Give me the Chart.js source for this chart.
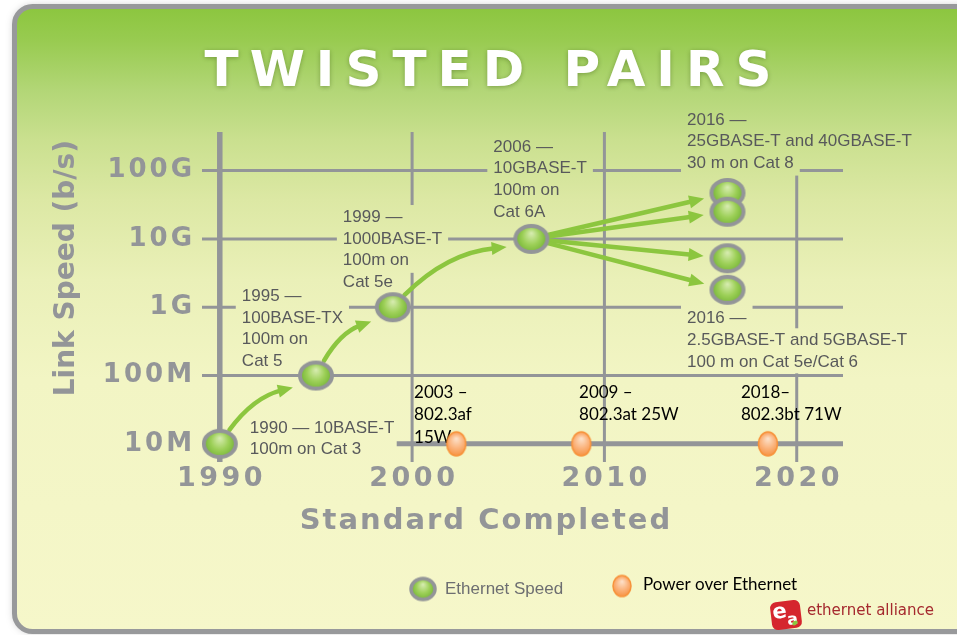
<!DOCTYPE html>
<html><head><meta charset="utf-8">
<script src="https://cdn.jsdelivr.net/npm/chart.js@4/dist/chart.umd.min.js"></script>
<style>html,body{margin:0;padding:0;background:#fff;overflow:hidden}canvas{display:block}</style>
</head><body>
<canvas id="c" width="957" height="635"></canvas>
<script>
// ---------- data ----------
const xTickYears = [1990, 2000, 2010, 2020];
const yTickValues = [1e7, 1e8, 1e9, 1e10, 1e11];
const yTickLabels = ['10M', '100M', '1G', '10G', '100G'];
const ethYears  = [1990, 1995, 1999, 2006.2, 2016.4, 2016.4, 2016.4, 2016.4];
const ethSpeeds = [1e7, 1e8, 1e9, 1e10, 4.7e10, 2.5e10, 5.2e9, 1.8e9];
const poeYears  = [2002.3, 2008.8, 2018.5];
const poeLevel  = [1e7, 1e7, 1e7];
const ethNotes = [
  ['1990 — 10BASE-T', '100m on Cat 3'],
  ['1995 —', '100BASE-TX', '100m on', 'Cat 5'],
  ['1999 —', '1000BASE-T', '100m on', 'Cat 5e'],
  ['2006 —', '10GBASE-T', '100m on', 'Cat 6A'],
  ['2016 —', '25GBASE-T and 40GBASE-T', '30 m on Cat 8'],
  ['2016 —', '2.5GBASE-T and 5GBASE-T', '100 m on Cat 5e/Cat 6']
];
const poeNotes = [
  ['2003 –', '802.3af', '15W'],
  ['2009 –', '802.3at 25W'],
  ['2018–', '802.3bt 71W']
];
const arrowLinks = [[0,1],[1,2],[2,3],[3,4],[3,5],[3,6],[3,7]];
const legendNames = ['Ethernet Speed', 'Power over Ethernet'];

// ---------- style ----------
const GRAY = '#939598';
const ethNotePlace = [
  {pt:0, dx:30, dy:-16}, {pt:2, dx:-151, dy:-11}, {pt:2, dx:-50, dy:-90, wide:true},
  {pt:3, dx:-38, dy:-92}, {pt:4, dx:-40.5, dy:-73}, {pt:7, dx:-40.5, dy:29}
];
const poeNotePlace = [{dx:-42.3, dy:-51.8}, {dx:-2.3, dy:-51.8}, {dx:-27, dy:-51.8}];

function makeEllipse(w, h, rx, ry, lw, stroke, stops) {
  const c = document.createElement('canvas'); c.width = w; c.height = h;
  const g = c.getContext('2d');
  const cx = w / 2, cy = h / 2;
  const grad = g.createRadialGradient(cx, cy - ry * 0.45, 0, cx, cy, Math.max(rx, ry) * 1.1);
  stops.forEach(([t, col]) => grad.addColorStop(t, col));
  g.beginPath(); g.ellipse(cx, cy, rx, ry, 0, 0, Math.PI * 2);
  g.fillStyle = grad; g.fill();
  g.lineWidth = lw; g.strokeStyle = stroke; g.stroke();
  return c;
}
const greenStops = [[0,'#d9edb3'],[0.5,'#9dd058'],[1,'#69ad2b']];
const orangeStops = [[0,'#fde3cd'],[0.55,'#fbb27a'],[1,'#f68e3a']];
const greenDot = makeEllipse(38, 32, 16, 13, 4, GRAY, greenStops);
const orangeDot = makeEllipse(24, 28, 9.5, 12, 1.6, '#f7923a', orangeStops);
const greenKey = makeEllipse(30, 27, 12, 10.5, 3.5, GRAY, greenStops);
const orangeKey = makeEllipse(22, 25, 9, 10.5, 1.5, '#f7923a', orangeStops);

function rot(u, deg) {
  const a = deg * Math.PI / 180, c = Math.cos(a), s = Math.sin(a);
  return {x: u.x * c - u.y * s, y: u.x * s + u.y * c};
}
function unit(a, b) {
  const dx = b.x - a.x, dy = b.y - a.y, l = Math.hypot(dx, dy);
  return {x: dx / l, y: dy / l, len: l};
}
function head(ctx, tip, d, len, wid) {
  const bx = tip.x - d.x * len, by = tip.y - d.y * len, nx = -d.y, ny = d.x;
  ctx.beginPath(); ctx.moveTo(tip.x, tip.y);
  ctx.lineTo(bx + nx * wid / 2, by + ny * wid / 2);
  ctx.lineTo(bx - nx * wid / 2, by - ny * wid / 2);
  ctx.closePath(); ctx.fill();
}
// snap a mask box so it fully covers or fully avoids nearby grid lines
function snapBox(top, bot, lines) {
  lines.forEach(y => {
    if (Math.abs(top - y) < 3) top = (y >= top) ? y - 2.2 : y + 2.2;
    if (Math.abs(bot - y) < 3) bot = (y <= bot) ? y + 2.2 : y - 2.2;
  });
  return [top, bot];
}

const artPlugin = {
  id: 'art',
  beforeDraw(chart) {
    const ctx = chart.ctx;
    const xs = chart.scales.x, ys = chart.scales.y;
    if (!xs._wrapped) {
      xs._wrapped = true;
      const xl = xs.drawLabels, xt = xs.drawTitle, yl = ys.drawLabels, yt = ys.drawTitle;
      xs.drawLabels = function (a) { const c = this.ctx; c.save(); c.letterSpacing = '3.5px'; c.translate(1.75, 0); xl.call(this, a); c.restore(); };
      xs.drawTitle = function () { const c = this.ctx; c.save(); c.letterSpacing = '2px'; c.translate(-37.5, 0); xt.call(this); c.restore(); };
      ys.drawLabels = function (a) { const c = this.ctx; c.save(); c.letterSpacing = '3px'; yl.call(this, a); c.restore(); };
      ys.drawTitle = function () { const c = this.ctx; c.save(); c.translate(0, 10); yt.call(this); c.restore(); };
    }
    ctx.save();
    ctx.fillStyle = '#ffffff'; ctx.fillRect(0, 0, 957, 635);
    const g = ctx.createLinearGradient(0, 8, 0, 633);
    [[0,'#8cc63f'],[0.051,'#98cb50'],[0.131,'#b2d676'],[0.211,'#cae08f'],[0.307,'#dce8a4'],
     [0.435,'#eaf0b8'],[0.595,'#f2f5c4'],[1,'#f6f7ca']].forEach(([t, c]) => g.addColorStop(t, c));
    chart.$bg = g;
    ctx.beginPath(); ctx.roundRect(14.5, 6.5, 990, 625, 18);
    ctx.shadowColor = 'rgba(0,0,0,0.28)'; ctx.shadowBlur = 8;
    ctx.fillStyle = g; ctx.fill();
    ctx.shadowColor = 'transparent'; ctx.shadowBlur = 0;
    ctx.lineWidth = 5; ctx.strokeStyle = '#98999b'; ctx.stroke();
    ctx.font = 'bold 50px "DejaVu Sans"';
    ctx.letterSpacing = '11px';
    const t = 'TWISTED PAIRS';
    const w = ctx.measureText(t).width - 11;
    ctx.fillStyle = '#ffffff'; ctx.textBaseline = 'alphabetic'; ctx.textAlign = 'left';
    ctx.shadowColor = 'rgba(60,90,20,0.45)'; ctx.shadowBlur = 5; ctx.shadowOffsetY = 1;
    ctx.fillText(t, 488 - w / 2, 86);
    ctx.restore();
  },
  beforeDatasetsDraw(chart) {
    const ctx = chart.ctx, xs = chart.scales.x, ys = chart.scales.y, ca = chart.chartArea;
    const meta = chart.getDatasetMeta(0), pmeta = chart.getDatasetMeta(1);
    ctx.save();
    ctx.strokeStyle = GRAY; ctx.lineCap = 'butt';
    ctx.lineWidth = 3;
    const hLines = yTickValues.slice(1).map(v => ys.getPixelForValue(v));
    hLines.forEach(y => {
      ctx.beginPath(); ctx.moveTo(ca.left, y); ctx.lineTo(ca.right - 2, y); ctx.stroke();
    });
    xTickYears.forEach((yr, i) => {
      const x = xs.getPixelForValue(yr);
      ctx.lineWidth = i === 0 ? 5.5 : 3;
      ctx.beginPath(); ctx.moveTo(x, ca.top + 2); ctx.lineTo(x, ca.bottom - 1); ctx.stroke();
    });
    const py = ys.getPixelForValue(poeLevel[0]);
    ctx.lineWidth = 5;
    ctx.beginPath(); ctx.moveTo(xs.getPixelForValue(1999.2), py); ctx.lineTo(ca.right - 2, py); ctx.stroke();
    const LH = 21.7;
    ctx.font = '17px "Liberation Sans"';
    ctx.textBaseline = 'middle'; ctx.textAlign = 'left';
    ethNotes.forEach((lines, k) => {
      const pl = ethNotePlace[k], p = meta.data[pl.pt];
      const x0 = p.x + pl.dx, y0 = p.y + pl.dy;
      ctx.fillStyle = chart.$bg;
      lines.forEach((s, j) => {
        let w = ctx.measureText(s).width;
        if (pl.wide && j === 0 && lines[1]) w = Math.max(w, ctx.measureText(lines[1]).width);
        const [t0, b0] = snapBox(y0 + j * LH - 12.2, y0 + j * LH + 12.2, hLines);
        ctx.fillRect(x0 - 6, t0, w + 12, b0 - t0);
      });
      ctx.fillStyle = '#58595b';
      lines.forEach((s, j) => ctx.fillText(s, x0, y0 + j * LH));
    });
    ctx.font = '17px Lato';
    ctx.fillStyle = '#000000';
    poeNotes.forEach((lines, k) => {
      const pl = poeNotePlace[k], p = pmeta.data[k];
      lines.forEach((s, j) => ctx.fillText(s, p.x + pl.dx, p.y + pl.dy + j * 22.5));
    });
    ctx.strokeStyle = '#8cc63f'; ctx.fillStyle = '#8cc63f';
    ctx.lineWidth = 4.5; ctx.lineCap = 'round';
    arrowLinks.forEach(([a, b], k) => {
      const A = meta.data[a], B = meta.data[b];
      const u = unit(A, B);
      if (k < 3) {
        const su = rot(u, -20), tu = rot(u, 8);
        const S = {x: A.x + 17 * su.x, y: A.y + 17 * su.y};
        const T = {x: B.x - 26 * tu.x, y: B.y - 26 * tu.y};
        const c = unit(S, T);
        const n = {x: c.y, y: -c.x};
        const C = {x: (S.x + T.x) / 2 + n.x * 0.18 * c.len, y: (S.y + T.y) / 2 + n.y * 0.18 * c.len};
        const d = unit(C, T);
        const E = {x: T.x - d.x * 12, y: T.y - d.y * 12};
        ctx.beginPath(); ctx.moveTo(S.x, S.y); ctx.quadraticCurveTo(C.x, C.y, E.x, E.y); ctx.stroke();
        head(ctx, T, d, 15, 13);
      } else {
        const S = {x: A.x + 17 * u.x, y: A.y + 17 * u.y};
        const T = {x: B.x - 24 * u.x, y: B.y - 24 * u.y};
        const E = {x: T.x - u.x * 12, y: T.y - u.y * 12};
        ctx.beginPath(); ctx.moveTo(S.x, S.y); ctx.lineTo(E.x, E.y); ctx.stroke();
        head(ctx, T, u, 15, 13);
      }
    });
    ctx.restore();
  },
  afterDraw(chart) {
    const ctx = chart.ctx;
    ctx.save();
    ctx.textBaseline = 'middle'; ctx.textAlign = 'left';
    ctx.drawImage(greenKey, 423 - 15, 589 - 13.5);
    ctx.font = '17px "Liberation Sans"'; ctx.fillStyle = '#6d6e71';
    ctx.fillText(legendNames[0], 445, 589);
    ctx.drawImage(orangeKey, 622 - 11, 586 - 12.5);
    ctx.font = '17px Lato'; ctx.fillStyle = '#000000';
    ctx.fillText(legendNames[1], 643, 585);
    ctx.save();
    ctx.translate(786, 615); ctx.rotate(-0.12);
    ctx.fillStyle = '#d5262e';
    ctx.beginPath(); ctx.roundRect(-15, -14, 30, 28, 6); ctx.fill();
    ctx.fillStyle = '#ffffff'; ctx.textAlign = 'center';
    ctx.font = 'bold 21px "DejaVu Sans"'; ctx.fillText('e', -6, -3);
    ctx.font = 'bold 16px "DejaVu Sans"'; ctx.fillText('a', 6, 6);
    ctx.fillStyle = '#8cc63f';
    ctx.beginPath(); ctx.ellipse(8, 9, 3, 2, -0.5, 0, Math.PI * 2); ctx.fill();
    ctx.restore();
    ctx.font = '15px "DejaVu Sans"'; ctx.fillStyle = '#a5292e'; ctx.textAlign = 'left';
    ctx.fillText('ethernet alliance', 807, 611);
    ctx.restore();
  }
};

const axisFont = {family: '"DejaVu Sans"', weight: 'bold'};
new Chart(document.getElementById('c').getContext('2d'), {
  type: 'scatter',
  data: {
    datasets: [
      {label: legendNames[0], data: ethYears.map((x, i) => ({x, y: ethSpeeds[i]})),
       pointStyle: greenDot, pointRadius: 16, pointHoverRadius: 16},
      {label: legendNames[1], data: poeYears.map((x, i) => ({x, y: poeLevel[i]})),
       pointStyle: orangeDot, pointRadius: 12, pointHoverRadius: 12}
    ]
  },
  options: {
    responsive: false, devicePixelRatio: 1, animation: false, events: [],
    layout: {padding: {left: 0, top: 130, right: 112, bottom: 0}},
    plugins: {legend: {display: false}, tooltip: {enabled: false}, title: {display: false}},
    scales: {
      x: {
        type: 'linear', min: 1989.075, max: 2022.51, bounds: 'data',
        grid: {display: false, drawTicks: false}, border: {display: false},
        afterBuildTicks: s => { s.ticks = xTickYears.map(v => ({value: v})); },
        afterFit: s => { s.height = 172; },
        ticks: {autoSkip: false, maxRotation: 0, padding: 0, color: GRAY,
                font: {...axisFont, size: 27}, callback: v => String(v)},
        title: {display: true, text: 'Standard Completed', color: GRAY,
                font: {...axisFont, size: 29}, padding: {top: 0, bottom: 96.6}}
      },
      y: {
        type: 'logarithmic', min: 5.248e6, max: 3.926e11, bounds: 'data',
        grid: {display: false, drawTicks: false}, border: {display: false},
        afterBuildTicks: s => { s.ticks = yTickValues.map(v => ({value: v})); },
        afterFit: s => { s.width = 202; },
        ticks: {autoSkip: false, padding: 7, color: GRAY,
                font: {...axisFont, size: 26}, callback: (v, i) => yTickLabels[i]},
        title: {display: true, text: 'Link Speed (b/s)', align: 'end', color: GRAY,
                font: {...axisFont, size: 28}, padding: {top: 50.2, bottom: 0}}
      }
    }
  },
  plugins: [artPlugin]
});
</script>
</body></html>
